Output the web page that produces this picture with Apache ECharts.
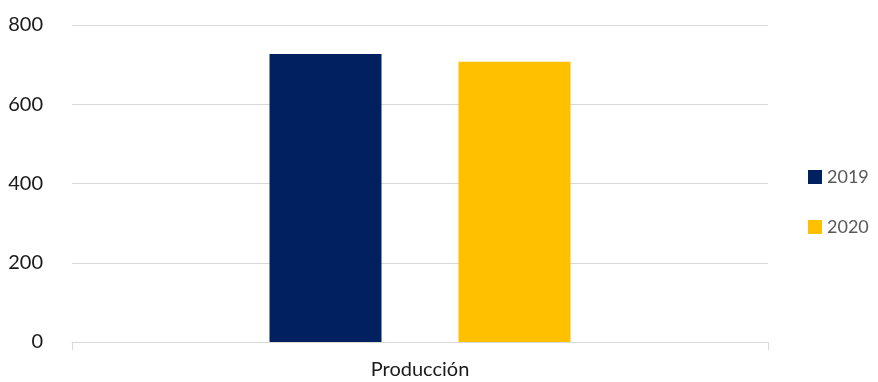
<!DOCTYPE html>
<html><head><meta charset="utf-8">
<script src="https://cdn.jsdelivr.net/npm/echarts@6/dist/echarts.min.js"></script>
<style>html,body{margin:0;padding:0;background:#fff}#c{width:878px;height:382px}</style>
</head><body><div id="c"></div>
<script>
const categories = ['Producción'];
const seriesNames = ['2019', '2020'];
const values2019 = [727];
const values2020 = [707];
const yTicks = [0, 200, 400, 600, 800];
const colors = ['#002060', '#FFC000'];
const font = 'Lato, "Open Sans", sans-serif';
const chart = echarts.init(document.getElementById('c'), null, {renderer: 'canvas'});
chart.setOption({
  animation: false,
  grid: {left: 72, right: 110, top: 25, bottom: 40, containLabel: false},
  legend: {
    orient: 'vertical', left: 808, top: 168, padding: 0, itemWidth: 14, itemHeight: 14, itemGap: 32, itemStyle: {borderWidth: 0},
    icon: 'rect', textStyle: {color: '#595959', fontSize: 18, fontFamily: font},
    data: seriesNames
  },
  xAxis: {
    type: 'category', data: categories,
    axisLine: {lineStyle: {color: '#d9d9d9'}},
    axisTick: {show: true, length: 8, lineStyle: {color: '#d9d9d9'}},
    axisLabel: {color: '#1a1a1a', fontSize: 20, fontFamily: font, margin: 18}
  },
  yAxis: {
    type: 'value', min: yTicks[0], max: yTicks[yTicks.length - 1], interval: 200,
    axisLine: {show: false}, axisTick: {show: false},
    splitLine: {lineStyle: {color: '#d9d9d9'}},
    axisLabel: {color: '#1a1a1a', fontSize: 20, fontFamily: font, margin: 29}
  },
  series: [
    {name: seriesNames[0], type: 'bar', data: values2019, barWidth: 112, barGap: '68.75%', itemStyle: {color: colors[0]}},
    {name: seriesNames[1], type: 'bar', data: values2020, barWidth: 112, barGap: '68.75%', itemStyle: {color: colors[1]}}
  ]
});
</script></body></html>
